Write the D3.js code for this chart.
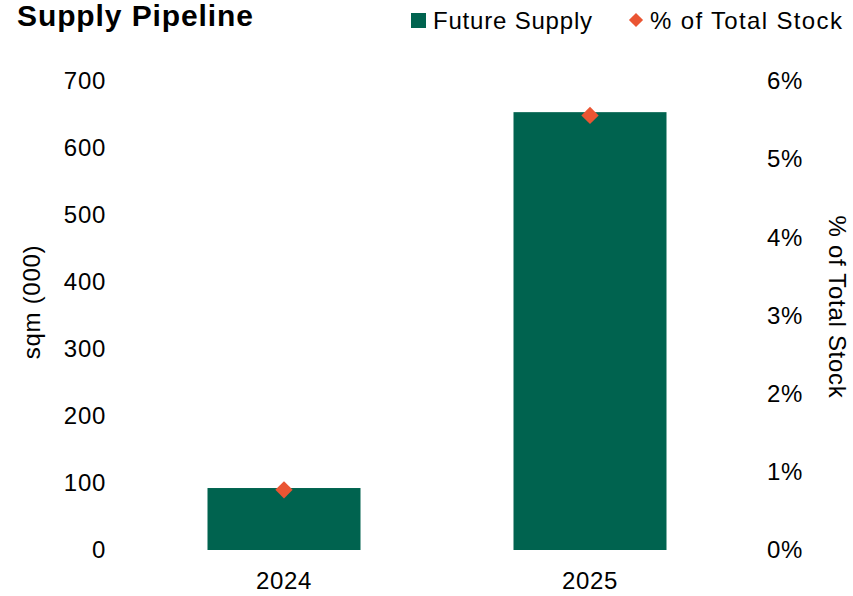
<!DOCTYPE html>
<html>
<head>
<meta charset="utf-8">
<script src="https://cdn.jsdelivr.net/npm/d3@7"></script>
<style>
  body { margin: 0; background: #fff; }
  svg { display: block; font-family: "Liberation Sans", Arial, sans-serif; }
  text { letter-spacing: 0.7px; }
</style>
</head>
<body>
<svg id="chart" width="853" height="596"></svg>
<script>
// Supply pipeline data
const years = ["2024", "2025"];
const futureSupply = [92.5, 653.5];     // sqm (000)
const pctOfStock = [0.77, 5.56];        // % of total stock
const leftTicks = [0, 100, 200, 300, 400, 500, 600, 700];
const rightTicks = [0, 1, 2, 3, 4, 5, 6];

const barColor = "#00634F";
const markColor = "#EA5533";
const font = "Liberation Sans, Arial, sans-serif";

const svg = d3.select("#chart");
const plot = { left: 131, right: 743, top: 81, bottom: 550 };

const x = d3.scaleBand().domain(years).range([plot.left, plot.right]).paddingInner(0.5).paddingOuter(0.25);
const yL = d3.scaleLinear().domain([0, 700]).range([plot.bottom, plot.top]);
const yR = d3.scaleLinear().domain([0, 6]).range([plot.bottom, plot.top]);

// Title
svg.append("text").attr("x", 17).attr("y", 26)
  .attr("font-size", 30).attr("font-weight", "bold").attr("fill", "#000")
  .style("letter-spacing", "0.9px")
  .text("Supply Pipeline");

// Bars
svg.append("g").selectAll("rect").data(years).join("rect")
  .attr("x", d => x(d))
  .attr("width", x.bandwidth())
  .attr("y", (d, i) => yL(futureSupply[i]))
  .attr("height", (d, i) => yL(0) - yL(futureSupply[i]))
  .attr("fill", barColor);

// Diamond markers
const diamond = d3.symbol().type(d3.symbolSquare).size(150);
svg.append("g").selectAll("path").data(years).join("path")
  .attr("d", diamond)
  .attr("transform", (d, i) => `translate(${x(d) + x.bandwidth() / 2},${yR(pctOfStock[i])}) rotate(45)`)
  .attr("fill", markColor);

// Left axis
const axL = svg.append("g").attr("transform", `translate(${plot.left - 25},0)`)
  .call(d3.axisLeft(yL).tickValues(leftTicks).tickSize(0).tickPadding(0));
axL.select(".domain").remove();
axL.selectAll("text").attr("font-size", 24).attr("fill", "#000").attr("font-family", font);

// Right axis
const axR = svg.append("g").attr("transform", `translate(767,0)`)
  .call(d3.axisRight(yR).tickValues(rightTicks).tickFormat(d => d + "%").tickSize(0).tickPadding(0));
axR.select(".domain").remove();
axR.selectAll("text").attr("font-size", 24).attr("fill", "#000").attr("font-family", font);

// Bottom axis
const axB = svg.append("g").attr("transform", `translate(0,${plot.bottom})`)
  .call(d3.axisBottom(x).tickSize(0).tickPadding(22));
axB.select(".domain").remove();
axB.selectAll("text").attr("font-size", 24).attr("fill", "#000").attr("font-family", font);

// Axis titles
svg.append("text").attr("transform", "translate(31,302) rotate(-90)")
  .attr("text-anchor", "middle").attr("dominant-baseline", "central")
  .attr("font-size", 24).text("sqm (000)");
svg.append("text").attr("transform", "translate(837,307) rotate(90)")
  .attr("text-anchor", "middle").attr("dominant-baseline", "central")
  .attr("font-size", 24).text("% of Total Stock");

// Legend
const lg = svg.append("g");
lg.append("rect").attr("x", 411).attr("y", 13).attr("width", 15).attr("height", 15).attr("fill", barColor);
lg.append("text").attr("x", 433).attr("y", 29).attr("font-size", 24).style("letter-spacing", "0.8px").text("Future Supply");
lg.append("path").attr("d", d3.symbol().type(d3.symbolSquare).size(100))
  .attr("transform", "translate(636,20) rotate(45)").attr("fill", markColor);
lg.append("text").attr("x", 650).attr("y", 29).attr("font-size", 24).style("letter-spacing", "1.35px").text("% of Total Stock");
</script>
</body>
</html>
